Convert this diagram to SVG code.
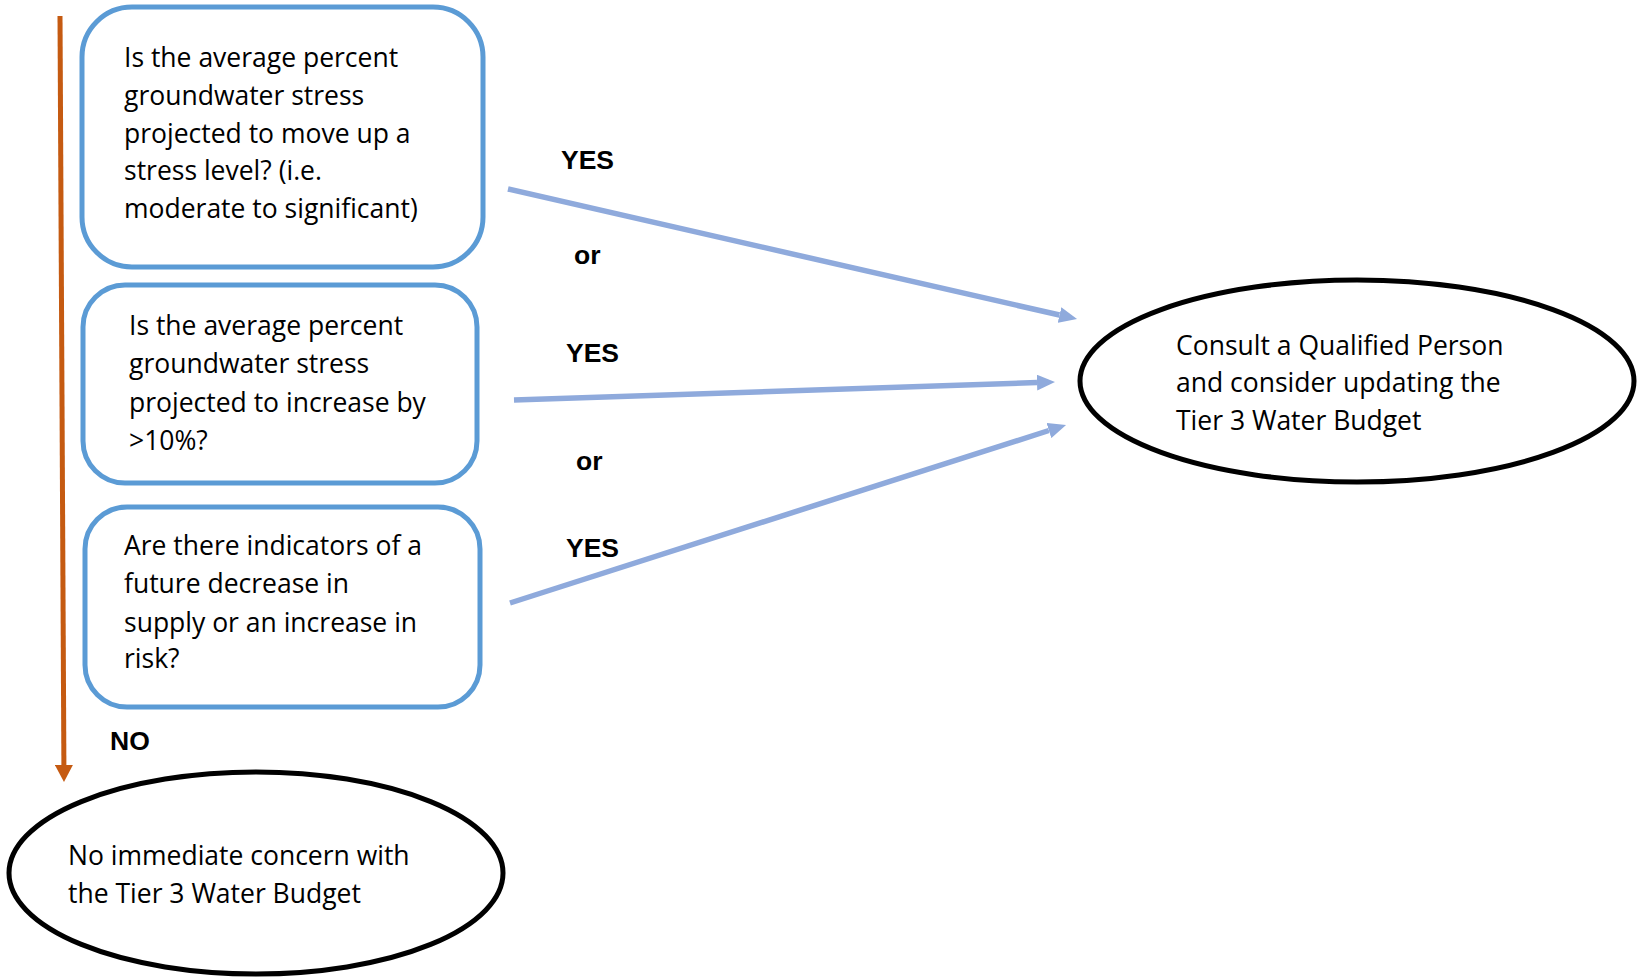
<svg xmlns="http://www.w3.org/2000/svg" width="1637" height="977" viewBox="0 0 1637 977">
<style>
.box{fill:#fff;stroke:#5B9BD5;stroke-width:5}
.ell{fill:#fff;stroke:#000;stroke-width:5}
.t{font-family:"Open Sans","Liberation Sans",sans-serif;font-size:26.5px;fill:#000}
.lbl{font-family:"Liberation Sans",Arial,sans-serif;font-size:26.5px;font-weight:bold;fill:#000}
.blue{stroke:#8FAADC;stroke-width:5.5;fill:none}
.orange{stroke:#C55A11;stroke-width:5;fill:none}
</style>
<defs>
<marker id="ab" markerUnits="userSpaceOnUse" markerWidth="18" markerHeight="16" refX="0" refY="8" orient="auto" viewBox="0 0 18 16"><path d="M0,0 L18,8 L0,16 z" fill="#8FAADC"/></marker>
<marker id="ao" markerUnits="userSpaceOnUse" markerWidth="17" markerHeight="18" refX="0" refY="9" orient="auto" viewBox="0 0 17 18"><path d="M0,0 L17,9 L0,18 z" fill="#C55A11"/></marker>
</defs>
<rect width="1637" height="977" fill="#fff"/>
<g id="connectors">
<line class="orange" x1="60" y1="16" x2="63.9" y2="765" marker-end="url(#ao)"/>
<line class="blue" x1="508" y1="189" x2="1059.5" y2="315" marker-end="url(#ab)"/>
<line class="blue" x1="514" y1="400" x2="1037" y2="382.6" marker-end="url(#ab)"/>
<line class="blue" x1="510" y1="603" x2="1048.9" y2="430.5" marker-end="url(#ab)"/>
<text class="lbl" x="561" y="169">YES</text>
<text class="lbl" x="574" y="264">or</text>
<text class="lbl" x="566" y="362">YES</text>
<text class="lbl" x="576" y="470">or</text>
<text class="lbl" x="566" y="557">YES</text>
<text class="lbl" x="110" y="750">NO</text>
</g>
<g id="q1">
<rect class="box" x="82" y="7" width="401" height="260" rx="50"/>
<text class="t"><tspan x="124" y="67">Is the average percent</tspan><tspan x="124" y="105">groundwater stress</tspan><tspan x="124" y="143">projected to move up a</tspan><tspan x="124" y="180">stress level? (i.e.</tspan><tspan x="124" y="218">moderate to significant)</tspan></text>
</g>
<g id="q2">
<rect class="box" x="83" y="285" width="394" height="198" rx="42"/>
<text class="t"><tspan x="129" y="335">Is the average percent</tspan><tspan x="129" y="373">groundwater stress</tspan><tspan x="129" y="412">projected to increase by</tspan><tspan x="129" y="450">&gt;10%?</tspan></text>
</g>
<g id="q3">
<rect class="box" x="85" y="507" width="395" height="200" rx="42"/>
<text class="t"><tspan x="124" y="555">Are there indicators of a</tspan><tspan x="124" y="593">future decrease in</tspan><tspan x="124" y="632">supply or an increase in</tspan><tspan x="124" y="668">risk?</tspan></text>
</g>
<g id="consult">
<ellipse class="ell" cx="1357" cy="381" rx="277" ry="101"/>
<text class="t"><tspan x="1176" y="355">Consult a Qualified Person</tspan><tspan x="1176" y="392">and consider updating the</tspan><tspan x="1176" y="430">Tier 3 Water Budget</tspan></text>
</g>
<g id="noconcern">
<ellipse class="ell" cx="256" cy="873" rx="247" ry="101"/>
<text class="t"><tspan x="68" y="865">No immediate concern with</tspan><tspan x="68" y="903">the Tier 3 Water Budget</tspan></text>
</g>
</svg>
